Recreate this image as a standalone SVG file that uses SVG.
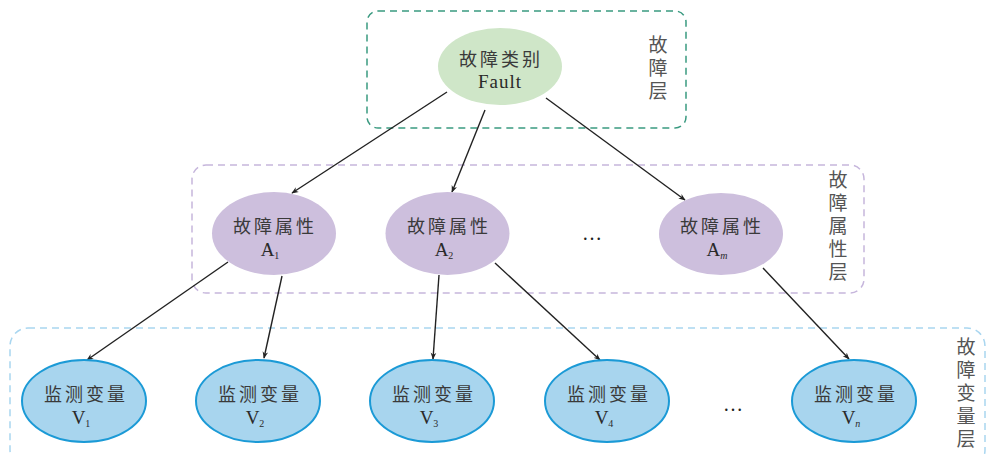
<svg xmlns="http://www.w3.org/2000/svg" width="987" height="455" viewBox="0 0 987 455">
<defs>
<marker id="ah" viewBox="0 0 10 10" refX="9" refY="5" markerWidth="7" markerHeight="7" orient="auto" markerUnits="userSpaceOnUse">
<path d="M0,1 L10,5 L0,9 L3,5 Z" fill="#222"/>
</marker>
<style>
.zh{font-family:"Noto Sans CJK SC","Liberation Serif",serif;font-size:18px;fill:#3a3a3a;letter-spacing:3px;text-anchor:middle}
.en{font-family:"Liberation Serif","Noto Sans CJK SC",serif;font-size:19px;fill:#2a2a2a;text-anchor:middle}
.sub{font-family:"Liberation Serif",serif;font-size:10px;fill:#2a2a2a}
.lay{font-family:"Noto Sans CJK SC","Liberation Serif",serif;font-size:19px;fill:#555;writing-mode:vertical-rl;letter-spacing:4px}
.ell1{fill:#cfe6c8}
.ell2{fill:#cdbfdd}
.ell3{fill:#a8d5ee;stroke:#1b9ad6;stroke-width:2}
.conn{stroke:#222;stroke-width:1.4;fill:none;marker-end:url(#ah)}
.dots{font-family:"Liberation Serif",serif;font-size:20px;fill:#222;text-anchor:middle}
</style>
</defs>
<rect width="987" height="455" fill="#ffffff"/>
<g id="layer-fault">
<rect x="367" y="11" width="319" height="117" rx="11" fill="none" stroke="#3a9a80" stroke-width="1.5" stroke-dasharray="7,5"/>
<text class="lay" x="658" y="35.5">故障层</text>
</g>
<g id="layer-attr">
<rect x="192" y="165" width="672" height="128" rx="14" fill="none" stroke="#c6b6dc" stroke-width="1.5" stroke-dasharray="7,5"/>
<text class="lay" x="838" y="170.5">故障属性层</text>
</g>
<g id="layer-var">
<rect x="10" y="328" width="975" height="140" rx="18" fill="none" stroke="#a9d6f0" stroke-width="1.5" stroke-dasharray="7,5"/>
<text class="lay" x="966" y="337.5">故障变量层</text>
</g>
<g id="connectors">
<line class="conn" x1="447" y1="92" x2="292" y2="193"/>
<line class="conn" x1="485" y1="110" x2="452" y2="192"/>
<line class="conn" x1="546" y1="98" x2="685" y2="200"/>
<line class="conn" x1="228" y1="262" x2="87" y2="360"/>
<line class="conn" x1="282" y1="276" x2="264" y2="358"/>
<line class="conn" x1="439" y1="275" x2="433" y2="359"/>
<line class="conn" x1="495" y1="263" x2="600" y2="360"/>
<line class="conn" x1="763" y1="268" x2="849" y2="359"/>
</g>
<g id="fault">
<ellipse class="ell1" cx="500" cy="66.5" rx="62" ry="38.5"/>
<text class="zh" x="501" y="66">故障类别</text>
<text class="en" x="500" y="88" letter-spacing="1">Fault</text>
</g>
<g id="a1">
<ellipse class="ell2" cx="274" cy="233.5" rx="62" ry="41.5"/>
<text class="zh" x="275" y="233">故障属性</text>
<text class="en" x="270" y="256">A<tspan class="sub" dy="3">1</tspan></text>
</g>
<g id="a2">
<ellipse class="ell2" cx="447.5" cy="233.5" rx="62" ry="41.5"/>
<text class="zh" x="449" y="233">故障属性</text>
<text class="en" x="444" y="256">A<tspan class="sub" dy="3">2</tspan></text>
</g>
<text class="dots" x="592" y="240">…</text>
<g id="am">
<ellipse class="ell2" cx="721" cy="234" rx="62" ry="41"/>
<text class="zh" x="722" y="233">故障属性</text>
<text class="en" x="717" y="256">A<tspan class="sub" dy="3" font-style="italic">m</tspan></text>
</g>
<g id="v1">
<ellipse class="ell3" cx="84" cy="401" rx="62" ry="41"/>
<text class="zh" x="86" y="401">监测变量</text>
<text class="en" x="81" y="424">V<tspan class="sub" dy="3">1</tspan></text>
</g>
<g id="v2">
<ellipse class="ell3" cx="258" cy="401" rx="62" ry="41"/>
<text class="zh" x="260" y="401">监测变量</text>
<text class="en" x="255" y="424">V<tspan class="sub" dy="3">2</tspan></text>
</g>
<g id="v3">
<ellipse class="ell3" cx="432" cy="401" rx="62" ry="41"/>
<text class="zh" x="434" y="401">监测变量</text>
<text class="en" x="429" y="424">V<tspan class="sub" dy="3">3</tspan></text>
</g>
<g id="v4">
<ellipse class="ell3" cx="607" cy="401" rx="62" ry="41"/>
<text class="zh" x="609" y="401">监测变量</text>
<text class="en" x="604" y="424">V<tspan class="sub" dy="3">4</tspan></text>
</g>
<text class="dots" x="733" y="411">…</text>
<g id="vn">
<ellipse class="ell3" cx="854" cy="401" rx="62" ry="41"/>
<text class="zh" x="856" y="401">监测变量</text>
<text class="en" x="851" y="424">V<tspan class="sub" dy="3" font-style="italic">n</tspan></text>
</g>
</svg>
